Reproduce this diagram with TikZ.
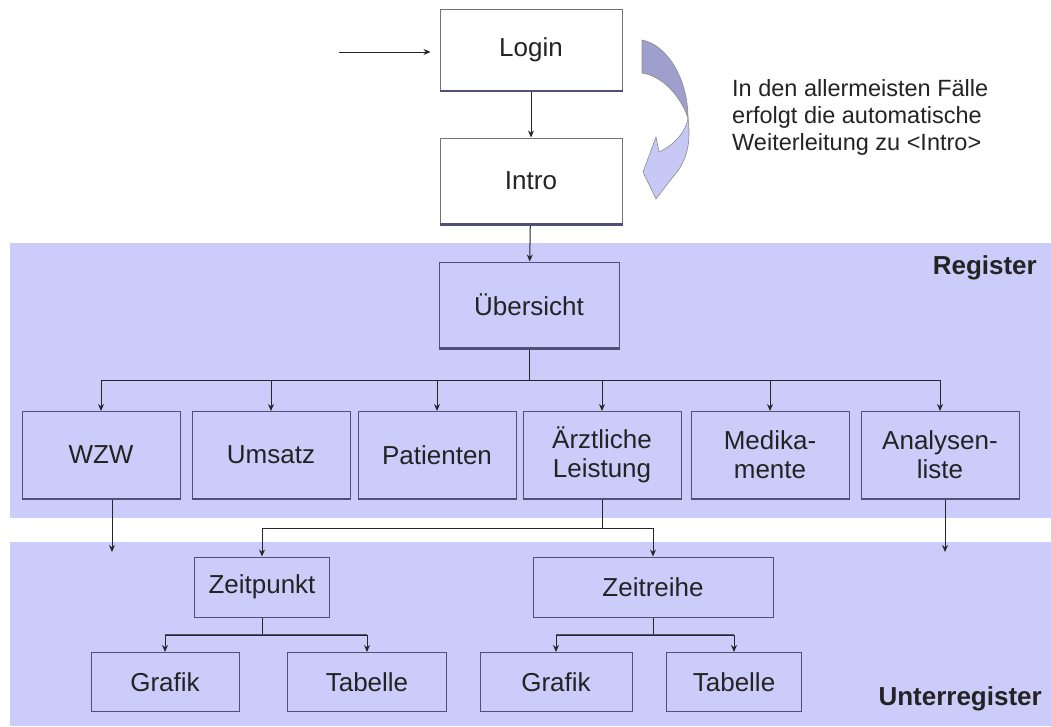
\documentclass[tikz,border=0pt]{standalone}
\usepackage{fontspec}
\setmainfont{Liberation Sans}
\usetikzlibrary{arrows.meta}
\definecolor{bandcol}{RGB}{204,204,250}
\definecolor{edgecol}{RGB}{80,80,118}
\definecolor{textcol}{RGB}{35,35,35}
\definecolor{bendtop}{RGB}{158,159,204}
\definecolor{bendlow}{RGB}{199,200,246}
\tikzset{
	box/.style={draw=edgecol, line width=1pt, fill=bandcol, text=textcol, align=center, inner sep=0pt, font=\fontsize{26}{29}\selectfont},
	topbox/.style={box, fill=white, draw=black!55},
	arr/.style={-{Stealth[length=7pt,width=6pt]}, draw=black!85, line width=1pt},
	bar/.style={draw=edgecol, line width=2.2pt},
	bottomedge/.style={draw=edgecol, line width=2.6pt},
	tag/.style={font=\bfseries\fontsize{26}{29}\selectfont, text=textcol, inner sep=0pt}
}
\begin{document}
\begin{tikzpicture}[x=1pt, y=-1pt]
		\useasboundingbox (0,0) rectangle (1051,726);
		
		% Bands
		\fill[bandcol] (10,243) rectangle (1051,518);
		\fill[bandcol] (10,542) rectangle (1051,726);
		\node[tag, anchor=east] (register) at (1037,268) {Register};
		\node[tag, anchor=east] (unterregister) at (1042,699) {Unterregister};
		
		% Login and Intro
		\node[topbox, minimum width=182pt, minimum height=81pt] (login) at (531,50) {Login};
		\node[topbox, minimum width=182pt, minimum height=86pt] (intro) at (531,181) {Intro};
		\coordinate (entry) at (339,52);
		\draw[arr, shorten >=9pt] (entry) -- (entry -| login.west);
		\draw[arr] (login) -- (intro);
		
		% Bent arrow with note
		\fill[bendtop, draw=black!45, line width=0.6pt] (642,40) .. controls (668,45) and (688,80) .. (688,118)
			.. controls (680,95) and (662,76) .. (642,73) -- cycle;
		\fill[bendlow, draw=black!45, line width=0.6pt] (688,118) .. controls (692,148) and (684,165) .. (672,178)
			-- (656,199) -- (643,172) -- (656,137) -- (659,152) .. controls (674,145) and (686,132) .. (688,118) -- cycle;
		\node[anchor=north west, align=left, inner sep=0pt, text=textcol, font=\fontsize{23.5}{27}\selectfont] (note) at (732,79)
			{In den allermeisten Fälle\\erfolgt die automatische\\Weiterleitung zu <Intro>};
		
		% Register
		\node[box, minimum width=180pt, minimum height=86pt] (uebersicht) at (529,305) {Übersicht};
		\draw[arr] (intro) -- (uebersicht);
		\foreach \x/\id/\name in {101/wzw/WZW, 271/umsatz/Umsatz, 437/patienten/Patienten, 602/arzt/{Ärztliche\\Leistung}, 770/medi/{Medika-\\mente}, 940/analysen/{Analysen-\\liste}} {
			\node[box, minimum width=158pt, minimum height=87pt] (\id) at (\x,455) {\name};
		}
		\coordinate (regsplit) at (529,380);
		\draw[arr, -] (uebersicht) -- (regsplit);
		\foreach \id in {wzw, umsatz, patienten, arzt, medi, analysen} {
			\draw[arr] (regsplit) -| (\id.north);
		}
		
		% Unterregister
		\coordinate (wzwout) at (112,552);
		\coordinate (analysenout) at (945,552);
		\draw[arr] (wzw.south -| wzwout) -- (wzwout);
		\draw[arr] (analysen.south -| analysenout) -- (analysenout);
		
		\node[box, minimum width=135pt, minimum height=60pt] (zeitpunkt) at (262,587) {Zeitpunkt};
		\node[box, minimum width=240pt, minimum height=60pt] (zeitreihe) at (653,587) {Zeitreihe};
		\coordinate (arztsplit) at (602,528);
		\draw[arr, -] (arzt) -- (arztsplit);
		\draw[arr] (arztsplit) -| (zeitpunkt.north);
		\draw[arr] (arztsplit) -| (zeitreihe.north);
		
		\foreach \x/\w/\id/\name in {165/148/grafikA/Grafik, 367/159/tabelleA/Tabelle, 556/152/grafikB/Grafik, 734/135/tabelleB/Tabelle} {
			\node[box, minimum width=\w pt, minimum height=59pt] (\id) at (\x,682) {\name};
		}
		\coordinate (pktsplit) at (262,635);
		\coordinate (reihesplit) at (653,635);
		\draw[arr, -] (zeitpunkt) -- (pktsplit);
		\draw[arr, -] (zeitreihe) -- (reihesplit);
		\draw[bar] (grafikA.north |- pktsplit) -- (tabelleA.north |- pktsplit);
		\draw[bar] (grafikB.north |- reihesplit) -- (tabelleB.north |- reihesplit);
		\foreach \id in {grafikA, tabelleA} {
			\draw[arr] (pktsplit) -| (\id.north);
		}
		\foreach \id in {grafikB, tabelleB} {
			\draw[arr] (reihesplit) -| (\id.north);
		}
		
		% Bottom edges
		\foreach \n in {login, intro, uebersicht, wzw, umsatz, patienten, arzt, medi, analysen} {
			\draw[bottomedge] (\n.south west) -- (\n.south east);
		}
	\end{tikzpicture}
\end{document}
